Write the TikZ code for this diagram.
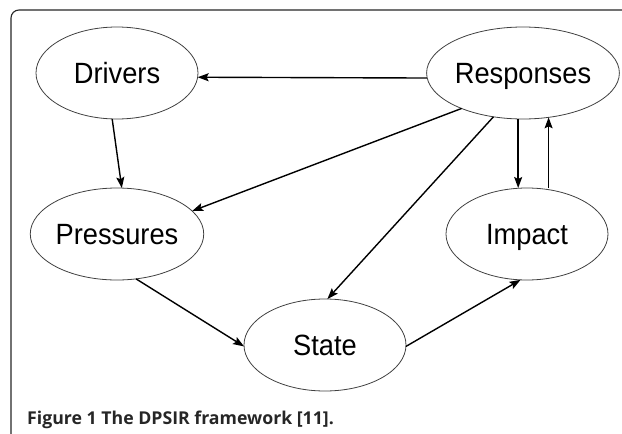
\documentclass[tikz,border=0pt]{standalone}
\usepackage{fontspec}
\setmainfont{Liberation Sans}
\newfontfamily\nodefont[FakeStretch=0.93]{Liberation Sans}
\newfontfamily\capfont{Open Sans}
\usetikzlibrary{shapes.geometric,arrows.meta}
\begin{document}
\begin{tikzpicture}[x=1pt,y=-1pt,
  stage/.style={ellipse,draw=black!75,line width=0.8pt,minimum width=162pt,minimum height=92pt,
    inner sep=0pt,outer sep=0pt,font=\nodefont\fontsize{29.3}{32}\selectfont,text height=21pt,text depth=0pt},
  link/.style={line width=1.4pt,-{Stealth[length=11pt,width=8pt,inset=2pt]}}]
\useasboundingbox (0,0) rectangle (622,434);
\draw[line width=1.1pt,black!85,rounded corners=8pt] (11,436) -- (11,10) -- (624,10);
\node[stage] (D) at (117,73) {Drivers};
\node[stage] (R) at (523,73) {Responses};
\node[stage] (P) at (117,234) {Pressures};
\node[stage] (S) at (325,345) {State};
\node[stage] (I) at (527,234) {Impact};
\draw[link] (R.183) -- (D.-3);
\draw[link] (D.264) -- (P.84);
\draw[link] (R.210) -- (P.17.5);
\draw[link] (R.236.6) -- (S.87.6);
\draw[link] (R.264) -- (R.264 |- I.north);
\draw[link] (R.300 |- I.north) -- (R.300);
\draw[link] (P.293.5) -- (S.181.4);
\draw[link] (S.-1.4) -- (I.262.7);
\node[anchor=base west,inner sep=0pt,font=\capfont\bfseries\fontsize{17.7}{20}\selectfont,text=black!85] (cap) at (27,424.5) {Figure 1 The DPSIR framework [11].};
\end{tikzpicture}
\end{document}
